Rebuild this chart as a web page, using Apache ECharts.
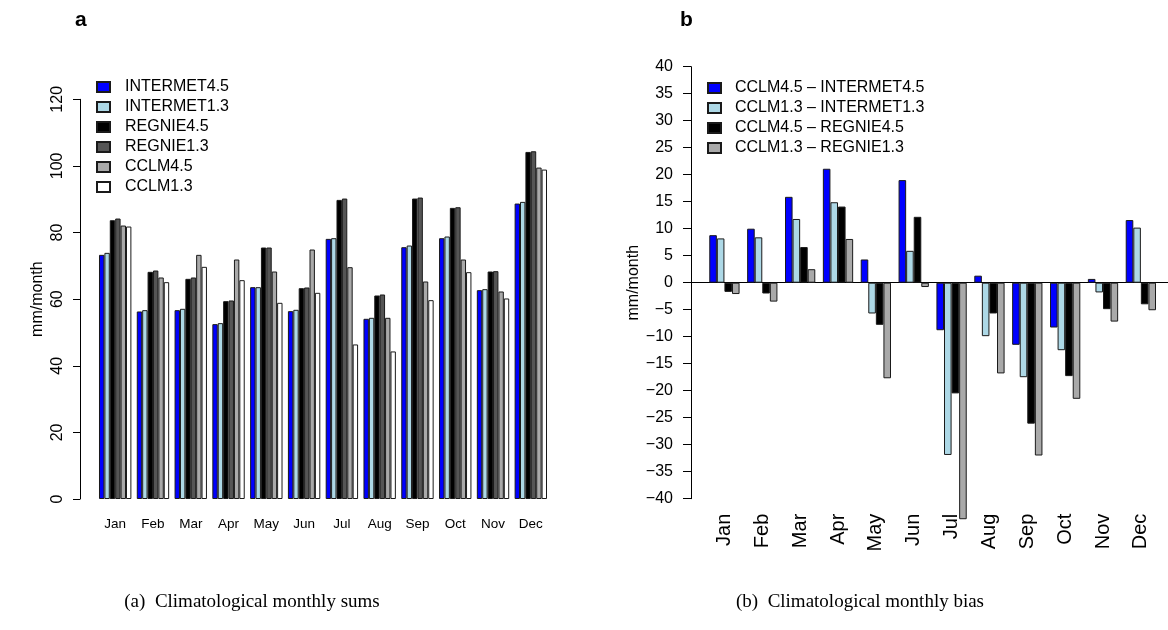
<!DOCTYPE html>
<html>
<head>
<meta charset="utf-8">
<script src="https://cdn.jsdelivr.net/npm/echarts@6/dist/echarts.min.js"></script>
<style>
  html, body { margin: 0; padding: 0; background: #fff; }
  #chart { width: 1168px; height: 630px; }
</style>
</head>
<body>
<div id="chart"></div>
<script>
// Month categories shared by both panels
const months = ['Jan', 'Feb', 'Mar', 'Apr', 'May', 'Jun', 'Jul', 'Aug', 'Sep', 'Oct', 'Nov', 'Dec'];

// Panel a: climatological monthly sums (mm/month)
const intermet45 = [73.3, 56.3, 56.7, 52.5, 63.6, 56.4, 78.1, 54.1, 75.6, 78.3, 62.7, 88.7];
const intermet13 = [73.9, 56.7, 57.1, 52.8, 63.6, 56.8, 78.3, 54.4, 76.1, 78.8, 63.0, 89.2];
const regnie45   = [83.7, 68.2, 66.1, 59.4, 75.5, 63.3, 89.8, 61.1, 90.2, 87.4, 68.3, 104.2];
const regnie13   = [84.2, 68.6, 66.5, 59.6, 75.5, 63.5, 90.2, 61.4, 90.5, 87.6, 68.4, 104.4];
const cclm45     = [82.1, 66.5, 73.3, 71.9, 68.3, 74.9, 69.6, 54.4, 65.3, 71.9, 62.3, 99.5];
const cclm13     = [81.8, 65.1, 69.7, 65.7, 58.9, 61.9, 46.4, 44.3, 59.7, 68.1, 60.2, 98.9];

// Panel b: climatological monthly bias (mm/month)
const biasC45I45 = [8.8, 10.0, 15.9, 21.1, 4.3, 19.0, -8.8, 1.3, -11.5, -8.3, 0.7, 11.6];
const biasC13I13 = [8.2, 8.4, 11.8, 14.9, -5.7, 5.9, -31.9, -9.9, -17.5, -12.5, -1.8, 10.2];
const biasC45R45 = [-1.7, -2.0, 6.6, 14.1, -7.8, 12.2, -20.5, -5.7, -26.1, -17.3, -4.9, -4.0];
const biasC13R13 = [-2.1, -3.5, 2.5, 8.1, -17.7, -0.8, -43.8, -16.8, -32.0, -21.5, -7.2, -5.1];

const FONT = '"Liberation Sans", Arial, Helvetica, sans-serif';
const BORDER = { borderColor: '#1a1a1a', borderWidth: 1 };

function barSeries(name, data, color, axisIdx) {
  return {
    type: 'bar',
    name: name,
    data: data,
    xAxisIndex: axisIdx,
    yAxisIndex: axisIdx,
    barGap: '0%',
    barCategoryGap: axisIdx === 0 ? '14.29%' : '20%',
    clip: false,
    itemStyle: Object.assign({ color: color }, BORDER),
    emphasis: { disabled: true }
  };
}

const leftSeries = [
  ['INTERMET4.5', intermet45, '#0000ff'],
  ['INTERMET1.3', intermet13, '#add8e6'],
  ['REGNIE4.5', regnie45, '#000000'],
  ['REGNIE1.3', regnie13, '#555555'],
  ['CCLM4.5', cclm45, '#a9a9a9'],
  ['CCLM1.3', cclm13, '#ffffff']
];
const rightSeries = [
  ['CCLM4.5 \u2013 INTERMET4.5', biasC45I45, '#0000ff'],
  ['CCLM1.3 \u2013 INTERMET1.3', biasC13I13, '#add8e6'],
  ['CCLM4.5 \u2013 REGNIE4.5', biasC45R45, '#000000'],
  ['CCLM1.3 \u2013 REGNIE1.3', biasC13R13, '#a9a9a9']
];

const legendBase = {
  orient: 'vertical',
  icon: 'rect',
  padding: 0,
  itemWidth: 13,
  itemHeight: 10,
  itemGap: 4,
  selectedMode: false,
  textStyle: { fontFamily: FONT, fontSize: 16, color: '#000', lineHeight: 16 }
};

const axisLineBlack = { show: true, lineStyle: { color: '#000', width: 1 } };

const option = {
  backgroundColor: '#fff',
  animation: false,
  textStyle: { fontFamily: FONT },
  grid: [
    { left: 96.3, width: 453.4, top: 99.3, height: 399.7 },
    { left: 705.5, width: 454.3, top: 66.7, height: 432 },
    { left: 691, right: 0, top: 66.7, height: 432 }
  ],
  legend: [
    Object.assign({}, legendBase, {
      left: 96, top: 79, data: leftSeries.map(s => s[0]),
      textStyle: Object.assign({}, legendBase.textStyle, { padding: [0, 0, 0, 10] })
    }),
    Object.assign({}, legendBase, {
      left: 707, top: 80, data: rightSeries.map(s => s[0]),
      textStyle: Object.assign({}, legendBase.textStyle, { padding: [0, 0, 0, 9] })
    })
  ],
  xAxis: [
    {
      type: 'category', gridIndex: 0, data: months,
      axisLine: { show: false }, axisTick: { show: false },
      axisLabel: { fontFamily: FONT, fontSize: 13.5, color: '#000', margin: 18 }
    },
    {
      type: 'category', gridIndex: 1, data: months,
      axisLine: { show: false }, axisTick: { show: false },
      axisLabel: { fontFamily: FONT, fontSize: 20, color: '#000', rotate: 90, margin: 15 }
    },
    {
      // zero reference line across the bias panel
      type: 'value', gridIndex: 2, min: 0, max: 1,
      axisLine: { show: true, onZero: true, lineStyle: { color: '#000', width: 1 } },
      axisTick: { show: false }, axisLabel: { show: false }, splitLine: { show: false }
    }
  ],
  yAxis: [
    {
      type: 'value', gridIndex: 0, min: 0, max: 120, interval: 20, offset: 16.3,
      axisLine: axisLineBlack,
      axisTick: { show: true, length: 7, lineStyle: { color: '#000' } },
      splitLine: { show: false },
      axisLabel: { fontFamily: FONT, fontSize: 16, color: '#000', rotate: 90, margin: 14 },
      name: 'mm/month', nameLocation: 'middle', nameRotate: 90, nameGap: 34,
      nameTextStyle: { fontFamily: FONT, fontSize: 16, color: '#000' }
    },
    {
      type: 'value', gridIndex: 1, min: -40, max: 40, interval: 5, offset: 14.5,
      axisLine: axisLineBlack,
      axisTick: { show: true, length: 8, lineStyle: { color: '#000' } },
      splitLine: { show: false },
      axisLabel: {
        fontFamily: FONT, fontSize: 16, color: '#000', margin: 18,
        formatter: v => String(v).replace('-', '\u2212')
      },
      name: 'mm/month', nameLocation: 'middle', nameRotate: 90, nameGap: 42,
      nameTextStyle: { fontFamily: FONT, fontSize: 16, color: '#000' }
    },
    { type: 'value', gridIndex: 2, min: -40, max: 40, show: false }
  ],
  graphic: [
    { type: 'text', left: 75, top: 10, style: { text: 'a', font: 'bold 21px ' + FONT, fill: '#000' } },
    { type: 'text', left: 680, top: 10, style: { text: 'b', font: 'bold 21px ' + FONT, fill: '#000' } },
    { type: 'text', x: 252, y: 602, style: { text: '(a)  Climatological monthly sums', font: '19px "Liberation Serif", "Times New Roman", serif', fill: '#000', align: 'center', verticalAlign: 'middle' } },
    { type: 'text', x: 860, y: 602, style: { text: '(b)  Climatological monthly bias', font: '19px "Liberation Serif", "Times New Roman", serif', fill: '#000', align: 'center', verticalAlign: 'middle' } }
  ],
  series: leftSeries.map(s => barSeries(s[0], s[1], s[2], 0))
    .concat(rightSeries.map(s => barSeries(s[0], s[1], s[2], 1)))
};

const chart = echarts.init(document.getElementById('chart'), null, { renderer: 'canvas' });
chart.setOption(option);
</script>
</body>
</html>
